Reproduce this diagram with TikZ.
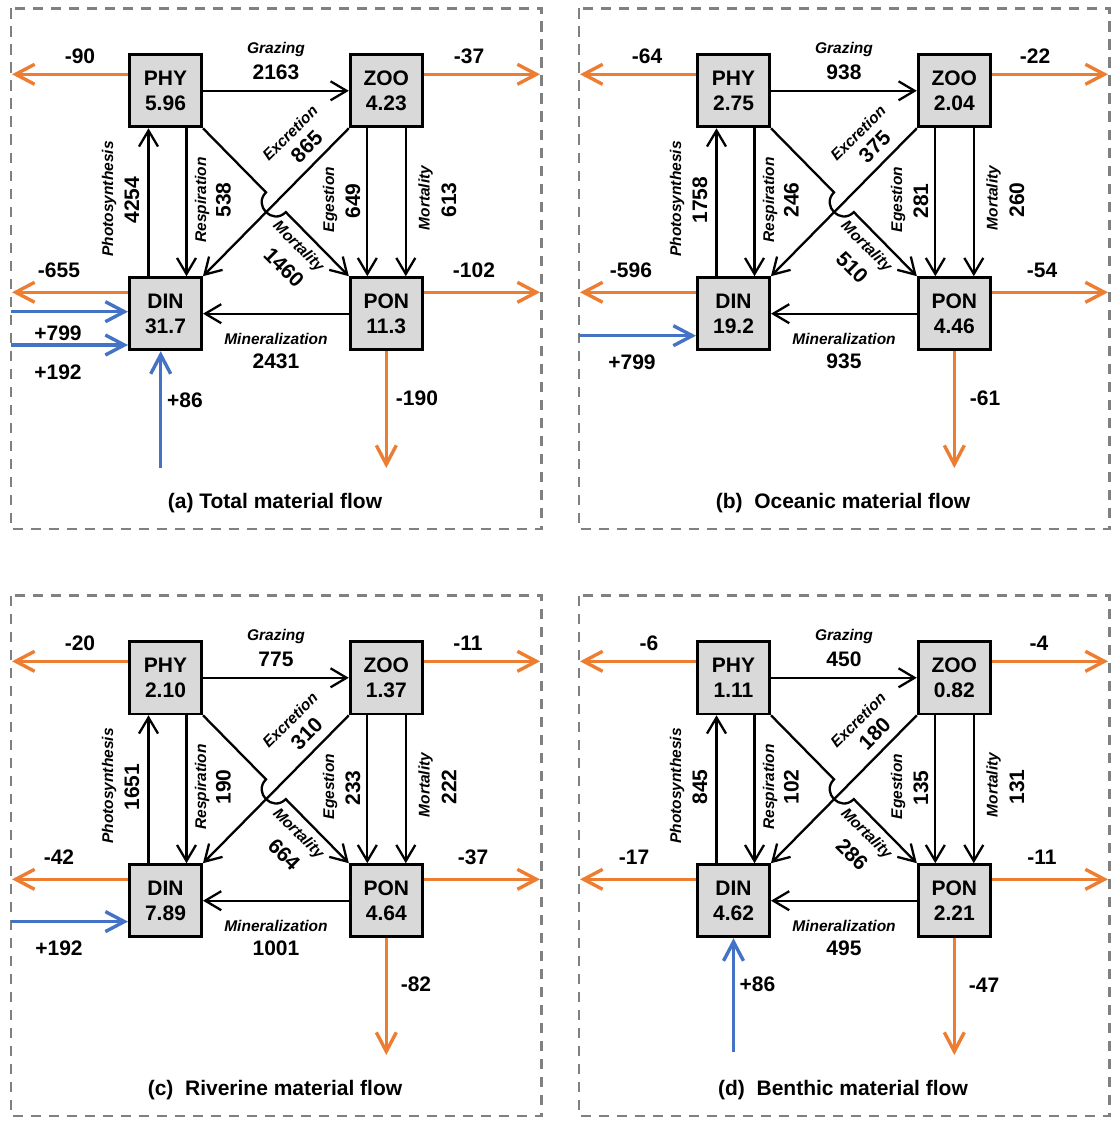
\documentclass[tikz,border=0pt]{standalone}
\usepackage{fontspec}
\setmainfont{Liberation Sans}
\usetikzlibrary{arrows.meta,calc}
\definecolor{orng}{HTML}{ED7D31}
\definecolor{blu}{HTML}{4472C4}
\definecolor{boxgray}{HTML}{D9D9D9}
\definecolor{dashgray}{HTML}{808080}
\tikzset{
 stockbox/.style={draw=black, fill=boxgray, line width=2.8pt, minimum width=72.2pt, minimum height=72.2pt, inner sep=0pt, align=center, font=\bfseries\fontsize{21}{25}\selectfont},
 intflow/.style={draw=black, line width=2.3pt, -{Straight Barb[length=16pt,width=19pt]}},
 outflow/.style={draw=orng, line width=3.4pt, -{Straight Barb[length=19pt,width=20pt]}},
 inflow/.style={draw=blu, line width=3.4pt, -{Straight Barb[length=19pt,width=20pt]}},
 numlab/.style={font=\bfseries\fontsize{21}{25}\selectfont, inner sep=0pt},
 flowlab/.style={font=\bfseries\itshape\fontsize{15.5}{18}\selectfont, inner sep=0pt},
 panelframe/.style={draw=dashgray, line width=2.5pt, dash pattern=on 10.5pt off 7.5pt},
 ttl/.style={font=\bfseries\fontsize{21}{25}\selectfont, inner sep=0pt, anchor=base},
}
% #1 prefix, #2 shift x, #3 shift y, #4 title
\newcommand{\flowpanel}[4]{%
\begin{scope}[shift={(#2,#3)}]
\draw[panelframe] (11,8.5) rectangle (541.5,529);
\node[stockbox] (#1phy) at (165.5,90.8) {PHY\\\vPHY};
\node[stockbox] (#1zoo) at (386.3,90.8) {ZOO\\\vZOO};
\node[stockbox] (#1din) at (165.5,313.7) {DIN\\\vDIN};
\node[stockbox] (#1pon) at (386.3,313.7) {PON\\\vPON};
\draw[intflow] (#1phy.east) -- (#1zoo.west);
\draw[intflow] (#1pon.west) -- (#1din.east);
\draw[intflow] ([xshift=-17pt]#1din.north) -- ([xshift=-17pt]#1phy.south);
\draw[intflow] ([xshift=21pt]#1phy.south) -- ([xshift=21pt]#1din.north);
\draw[intflow] ([xshift=-19pt]#1zoo.south) -- ([xshift=-19pt]#1pon.north);
\draw[intflow] ([xshift=19.5pt]#1zoo.south) -- ([xshift=19.5pt]#1pon.north);
\draw[intflow] (#1zoo.south west) -- (#1din.north east);
\coordinate (#1x) at ($(#1phy.south east)!0.5!(#1pon.north west)$);
\draw[intflow] (#1phy.south east) -- ($(#1x)+(-9.9,-9.9)$) .. controls ($(#1x)+(-23.1,3.3)$) and ($(#1x)+(-3.3,23.1)$) .. ($(#1x)+(9.9,9.9)$) -- (#1pon.north west);
\node[flowlab] (#1tg) at (276,49) {Grazing};
\node[numlab] (#1vg) at (276,72) {\vG};
\node[flowlab] (#1tm) at (276,339) {Mineralization};
\node[numlab] (#1vm) at (276,361) {\vM};
\node[flowlab, rotate=90] (#1tp) at (109,199) {Photosynthesis};
\node[numlab, rotate=90] (#1vp) at (132,200) {\vP};
\node[flowlab, rotate=90] (#1tr) at (202,200) {Respiration};
\node[numlab, rotate=90] (#1vr) at (223.5,200) {\vR};
\node[flowlab, rotate=90] (#1te) at (330,199.5) {Egestion};
\node[numlab, rotate=90] (#1ve) at (353,201) {\vE};
\node[flowlab, rotate=90] (#1tz) at (425.5,198) {Mortality};
\node[numlab, rotate=90] (#1vz) at (449,200) {\vZ};
\node[flowlab, rotate=45] (#1tx) at (290,133) {Excretion};
\node[numlab, rotate=45] (#1vx) at (306.7,146.7) {\vX};
\node[flowlab, rotate=-45] (#1tk) at (298,247) {Mortality};
\node[numlab, rotate=-45] (#1vk) at (284,267.5) {\vK};
\coordinate (#1Lp) at (12,74.3);
\coordinate (#1Rz) at (540,74.3);
\coordinate (#1Ld) at (12,292.3);
\coordinate (#1Rp) at (540,292.3);
\coordinate (#1Bp) at (386.3,468);
\draw[outflow] (#1phy.west |- #1Lp) -- (#1Lp);
\draw[outflow] (#1zoo.east |- #1Rz) -- (#1Rz);
\draw[outflow] (#1din.west |- #1Ld) -- (#1Ld);
\draw[outflow] (#1pon.east |- #1Rp) -- (#1Rp);
\draw[outflow] (#1pon.south) -- (#1Bp);
\node[ttl] (#1title) at (275,508) {#4};
\end{scope}}
\begin{document}
\begin{tikzpicture}[x=1pt,y=-1pt]
\useasboundingbox (0,0) rectangle (1113,1121);
% ---------- (a)
\def\vPHY{5.96}\def\vZOO{4.23}\def\vDIN{31.7}\def\vPON{11.3}
\def\vG{2163}\def\vM{2431}\def\vP{4254}\def\vR{538}\def\vE{649}\def\vZ{613}\def\vX{865}\def\vK{1460}
\flowpanel{a}{0}{0}{(a) Total material flow}
\begin{scope}
\node[numlab] (aoLp) at (80,56.7) {-90};
\node[numlab] (aoRz) at (469,56) {-37};
\node[numlab] (aoLd) at (59,270) {-655};
\node[numlab] (aoRp) at (474,270) {-102};
\node[numlab] (aoBp) at (417,398) {-190};
\coordinate (ain1) at (11,311.7);
\coordinate (ain2) at (11,345);
\coordinate (ain3) at (160.7,468);
\draw[inflow] (ain1) -- (adin.west |- ain1);
\draw[inflow] (ain2) -- (adin.west |- ain2);
\draw[inflow] (ain3) -- (adin.south -| ain3);
\node[numlab] (ai1) at (58,333) {+799};
\node[numlab] (ai2) at (58,372) {+192};
\node[numlab] (ai3) at (185,400) {+86};
\end{scope}
% ---------- (b)
\def\vPHY{2.75}\def\vZOO{2.04}\def\vDIN{19.2}\def\vPON{4.46}
\def\vG{938}\def\vM{935}\def\vP{1758}\def\vR{246}\def\vE{281}\def\vZ{260}\def\vX{375}\def\vK{510}
\flowpanel{b}{568}{0}{(b)\ \ Oceanic material flow}
\begin{scope}[shift={(568,0)}]
\node[numlab] (boLp) at (79,56.7) {-64};
\node[numlab] (boRz) at (467,56) {-22};
\node[numlab] (boLd) at (63,270.7) {-596};
\node[numlab] (boRp) at (474,270) {-54};
\node[numlab] (boBp) at (417,398) {-61};
\coordinate (bin1) at (11,335.7);
\draw[inflow] (bin1) -- (bdin.west |- bin1);
\node[numlab] (bi1) at (64,362) {+799};
\end{scope}
% ---------- (c)
\def\vPHY{2.10}\def\vZOO{1.37}\def\vDIN{7.89}\def\vPON{4.64}
\def\vG{775}\def\vM{1001}\def\vP{1651}\def\vR{190}\def\vE{233}\def\vZ{222}\def\vX{310}\def\vK{664}
\flowpanel{c}{0}{587}{(c)\ \ Riverine material flow}
\begin{scope}[shift={(0,587)}]
\node[numlab] (coLp) at (80,56.7) {-20};
\node[numlab] (coRz) at (468,56) {-11};
\node[numlab] (coLd) at (59,270) {-42};
\node[numlab] (coRp) at (473,270) {-37};
\node[numlab] (coBp) at (416,397) {-82};
\coordinate (cin1) at (11,334.6);
\draw[inflow] (cin1) -- (cdin.west |- cin1);
\node[numlab] (ci1) at (59,361) {+192};
\end{scope}
% ---------- (d)
\def\vPHY{1.11}\def\vZOO{0.82}\def\vDIN{4.62}\def\vPON{2.21}
\def\vG{450}\def\vM{495}\def\vP{845}\def\vR{102}\def\vE{135}\def\vZ{131}\def\vX{180}\def\vK{286}
\flowpanel{d}{568}{587}{(d)\ \ Benthic material flow}
\begin{scope}[shift={(568,587)}]
\node[numlab] (doLp) at (81,56.7) {-6};
\node[numlab] (doRz) at (471,56) {-4};
\node[numlab] (doLd) at (66,270) {-17};
\node[numlab] (doRp) at (474,270) {-11};
\node[numlab] (doBp) at (416,398) {-47};
\coordinate (din1) at (165.5,465);
\draw[inflow] (din1) -- (ddin.south -| din1);
\node[numlab] (di1) at (189.5,397) {+86};
\end{scope}
\end{tikzpicture}
\end{document}
